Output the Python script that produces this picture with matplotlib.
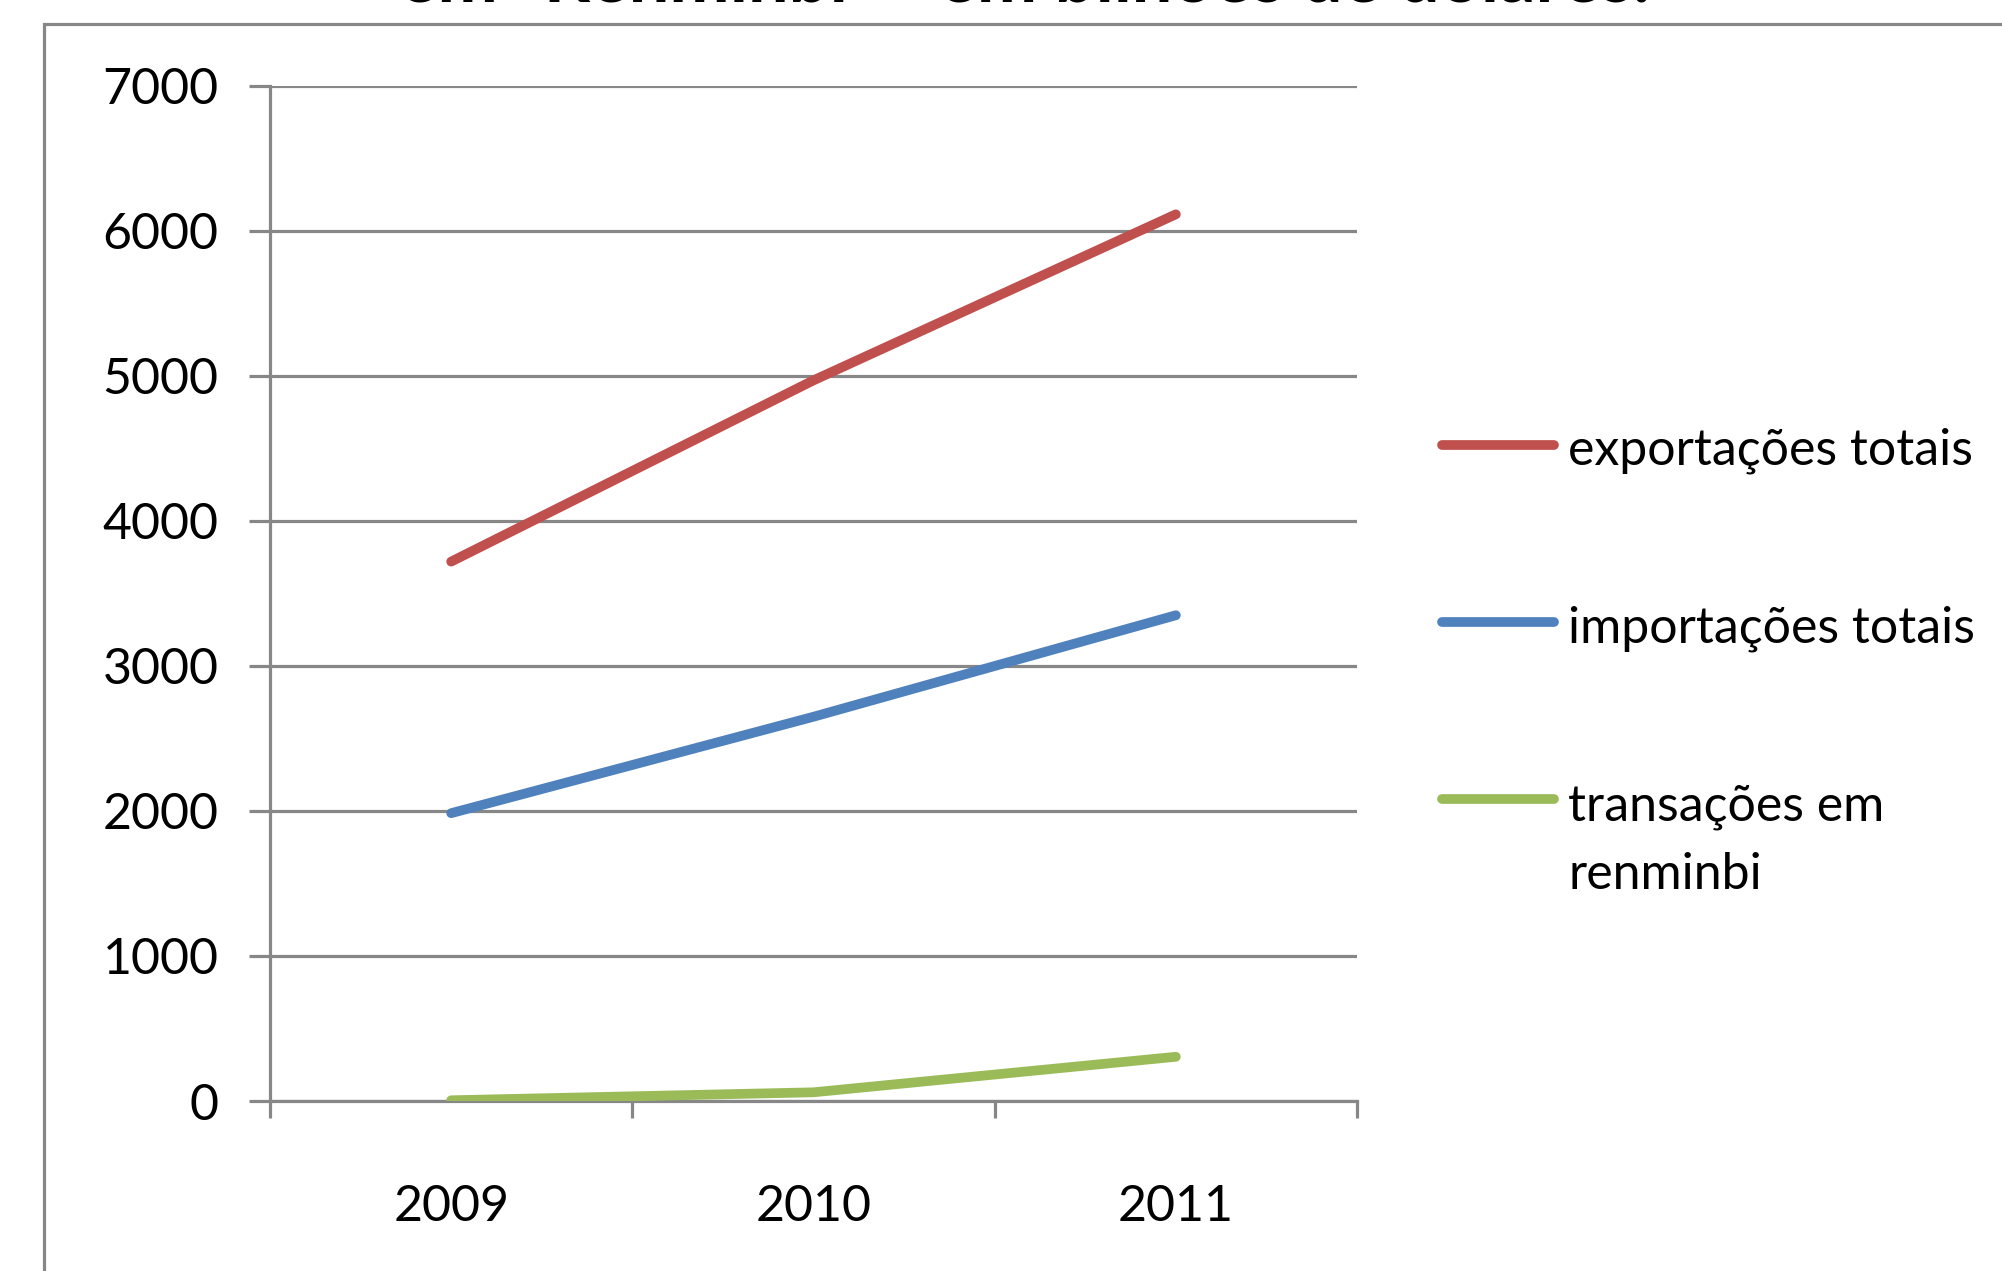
import matplotlib
matplotlib.use("Agg")
import matplotlib.pyplot as plt
from matplotlib.lines import Line2D
from matplotlib.patches import Rectangle

# data (bilhões de dólares)
years = ["2009", "2010", "2011"]
exportacoes = [3720, 4970, 6115]
importacoes = [1985, 2650, 3350]
renminbi = [5, 60, 305]
y_ticks = [0, 1000, 2000, 3000, 4000, 5000, 6000, 7000]

series_labels = ["exportações totais", "importações totais", "transações em\nrenminbi"]
series_colors = ["#C0504D", "#4F81BD", "#9BBB59"]
title = 'em "Renminbi" - em bilhões de dólares.'

W, H = 2002, 1271
FONT = "Lato"
GRAY = "#878787"


def fx(px):
    return px / W


def fy(py):
    return 1 - py / H


fig = plt.figure(figsize=(W / 100, H / 100), dpi=100)
fig.patch.set_facecolor("white")

# outer chart-area border (runs off the right and bottom edges)
fig.add_artist(Rectangle((fx(44), fy(1400)), fx(2200) - fx(44), fy(23.5) - fy(1400),
                         transform=fig.transFigure, fill=False, edgecolor=GRAY,
                         linewidth=2.3, clip_on=False))

# title, almost entirely cut off at the top
fig.text(fx(1025), fy(2), title, ha="center", va="baseline", fontsize=52,
         fontweight="bold", family=FONT, color="black")

ax = fig.add_axes([fx(270), fy(1101), fx(1357) - fx(270), fy(86) - fy(1101)])
x = list(range(len(years)))
for vals, col in zip([exportacoes, importacoes, renminbi], series_colors):
    ax.plot(x, vals, color=col, linewidth=7, solid_capstyle="round", zorder=3)

ax.set_xlim(-0.5, len(years) - 0.5)
ax.set_ylim(0, 7000)
ax.set_yticks(y_ticks)
ax.set_yticklabels([str(v) for v in y_ticks], family=FONT, fontsize=36)
ax.set_xticks(x)
ax.set_xticklabels(years, family=FONT, fontsize=36)
ax.set_xticks([i - 0.5 for i in range(len(years) + 1)], minor=True)

ax.tick_params(axis="y", which="major", length=15, width=2.3, color=GRAY, pad=22,
               direction="out")
ax.tick_params(axis="x", which="major", length=0, pad=60)
ax.tick_params(axis="x", which="minor", length=12, width=2.3, color=GRAY,
               direction="out")

ax.grid(axis="y", color=GRAY, linewidth=2.3)
ax.set_axisbelow(True)
for side in ["top", "right"]:
    ax.spines[side].set_visible(False)
for side in ["left", "bottom"]:
    ax.spines[side].set_color(GRAY)
    ax.spines[side].set_linewidth(2.3)

# legend on the right, handle aligned with the first text line
rows = [445, 622, 799]
line_gap = 70
for lab, col, ry in zip(series_labels, series_colors, rows):
    fig.add_artist(Line2D([fx(1442), fx(1554)], [fy(ry), fy(ry)], color=col,
                          linewidth=7, solid_capstyle="round",
                          transform=fig.transFigure))
    n_extra = lab.count("\n")
    fig.text(fx(1568), fy(ry + 20 + line_gap * n_extra), lab, ha="left",
             va="baseline", fontsize=36, family=FONT, color="black",
             linespacing=1.6)

fig.savefig("out.png", dpi=100, facecolor="white")
